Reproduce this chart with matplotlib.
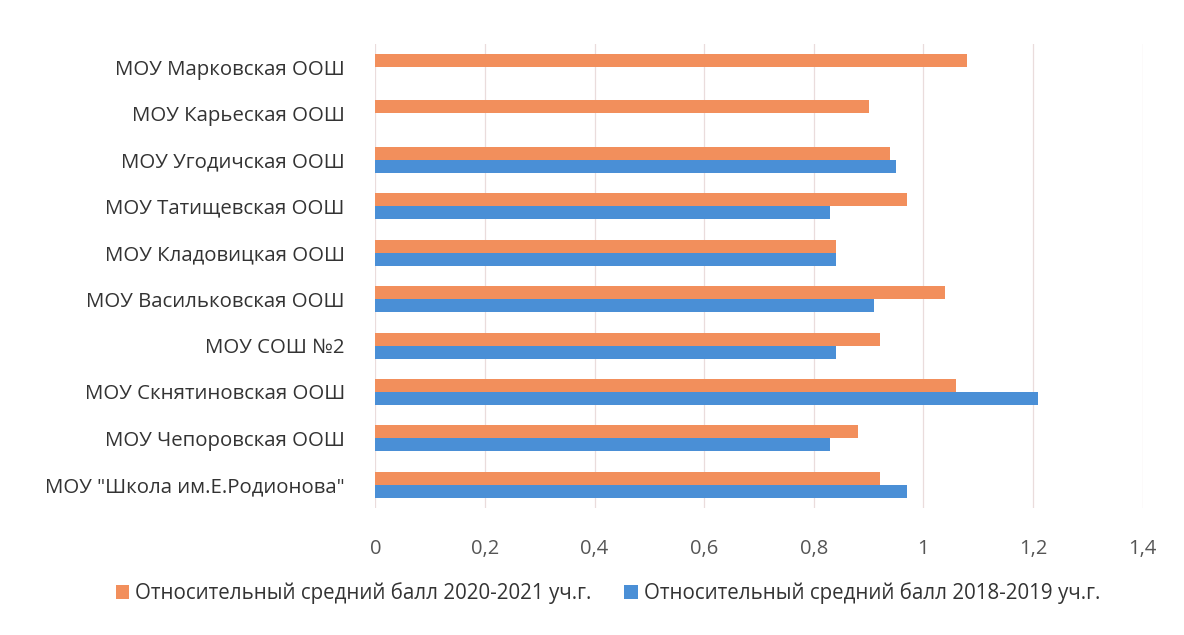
import matplotlib.pyplot as plt
import numpy as np

plt.rcParams['font.family'] = ['Open Sans', 'DejaVu Sans']

# данные
schools = [
    "МОУ Марковская ООШ",
    "МОУ Карьеская ООШ",
    "МОУ Угодичская ООШ",
    "МОУ Татищевская ООШ",
    "МОУ Кладовицкая ООШ",
    "МОУ Васильковская ООШ",
    "МОУ СОШ №2",
    "МОУ Скнятиновская ООШ",
    "МОУ Чепоровская ООШ",
    "МОУ \"Школа им.Е.Родионова\"",
]
score_2020 = [1.08, 0.90, 0.94, 0.97, 0.84, 1.04, 0.92, 1.06, 0.88, 0.92]
score_2018 = [0, 0, 0.95, 0.83, 0.84, 0.91, 0.84, 1.21, 0.83, 0.97]
label_2020 = "Относительный средний балл 2020-2021 уч.г."
label_2018 = "Относительный средний балл 2018-2019 уч.г."

orange = "#F28F5C"
blue = "#4A8FD6"

fig = plt.figure(figsize=(11.84, 6.35), dpi=100)
ax = fig.add_axes([0.317, 0.2, 0.648, 0.731])

y = np.arange(len(schools))
h = 0.28
ax.barh(y - h / 2, score_2020, height=h, color=orange, label=label_2020, zorder=3)
ax.barh(y + h / 2, score_2018, height=h, color=blue, label=label_2018, zorder=3)

ax.set_ylim(len(schools) - 0.5, -0.5)
ax.set_xlim(0, 1.4)
ax.set_xticks(np.arange(0, 1.41, 0.2))
ax.set_xticklabels(["0", "0,2", "0,4", "0,6", "0,8", "1", "1,2", "1,4"],
                   fontsize=14.5, color="#555555")
ax.set_yticks(y)
ax.set_yticklabels(schools, fontsize=14.7, color="#333333")
ax.tick_params(axis="both", length=0)
ax.tick_params(axis="x", pad=22)
ax.tick_params(axis="y", pad=22)

ax.grid(axis="x", color="#eadcdc", linewidth=0.9, zorder=0)
for s in ax.spines.values():
    s.set_visible(False)

fig.legend(loc="center", bbox_to_anchor=(608 / 1184, 1 - 593 / 635), ncol=2,
           frameon=False, fontsize=14.8, handlelength=0.65, handleheight=0.65,
           handletextpad=0.3, columnspacing=1.6, labelcolor="#333333")

fig.savefig("out.png", dpi=100)
plt.close(fig)
